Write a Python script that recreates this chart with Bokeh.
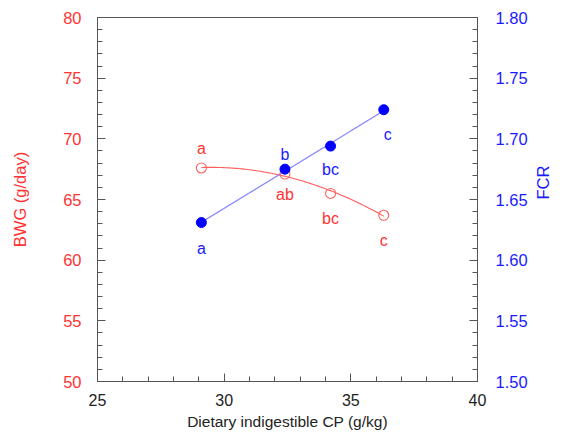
import numpy as np
from bokeh.plotting import figure
from bokeh.models import Range1d, LinearAxis, ColumnDataSource, FixedTicker, PrintfTickFormatter
from bokeh.embed import file_html
from bokeh.resources import INLINE
from bokeh.core.properties import value

# ---- data ----
cp = [29.1, 32.4, 34.2, 36.3]
bwg = [67.6, 67.1, 65.5, 63.7]
fcr = [1.631, 1.675, 1.694, 1.724]
bwg_letters = ["a", "ab", "bc", "c"]
fcr_letters = ["a", "b", "bc", "c"]
x_ticks = [25, 30, 35, 40]
bwg_ticks = [50, 55, 60, 65, 70, 75, 80]
fcr_ticks = [1.50, 1.55, 1.60, 1.65, 1.70, 1.75, 1.80]

# ---- style ----
RED = "#ff3333"
BLUE = "#1a1aff"
FONT = "Liberation Sans"
bwg_label_dy = [-19, 20, 25, 25]   # screen pixel offsets (positive = down)
fcr_label_dy = [26, -15, 23, 25]
fcr_label_dx = [0, 0, 0, 4]

p = figure(width=563, height=432, output_backend="svg", toolbar_location=None,
           x_range=Range1d(25, 40), y_range=Range1d(50, 80),
           min_border_left=97, min_border_right=86, min_border_top=17, min_border_bottom=48)
p.extra_y_ranges = {"fcr": Range1d(1.5, 1.8)}
p.grid.visible = False
p.outline_line_color = "#555555"
p.outline_line_width = 1
p.background_fill_color = "white"
p.border_fill_color = "white"

def style_axis(ax, color, standoff):
    ax.axis_line_color = "#555555"
    ax.major_tick_line_color = "#555555"
    ax.minor_tick_line_color = "#555555"
    ax.major_tick_in = 8
    ax.major_tick_out = 0
    ax.minor_tick_in = 5
    ax.minor_tick_out = 0
    ax.major_label_text_font = FONT
    ax.major_label_text_font_size = "16.5px"
    ax.major_label_text_color = color
    ax.major_label_standoff = standoff
    ax.axis_label_text_font = FONT
    ax.axis_label_text_font_size = "16.5px"
    ax.axis_label_text_font_style = "normal"
    ax.axis_label_text_color = color

xa = p.xaxis[0]
xa.ticker = FixedTicker(ticks=x_ticks, minor_ticks=list(range(25, 41)))
xa.axis_label = "Dietary indigestible CP (g/kg)"
style_axis(xa, "#222222", 12)
xa.major_label_text_font_size = "16px"
xa.axis_label_text_font_size = "15.5px"
xa.axis_label_standoff = 4

ya = p.yaxis[0]
ya.ticker = FixedTicker(ticks=bwg_ticks, minor_ticks=list(range(50, 81)))
ya.axis_label = "BWG (g/day)"
style_axis(ya, RED, 16)
ya.axis_label_standoff = 31

ra = LinearAxis(y_range_name="fcr", axis_label="FCR",
                ticker=FixedTicker(ticks=fcr_ticks,
                                   minor_ticks=[round(1.5 + 0.01 * i, 2) for i in range(31)]))
style_axis(ra, BLUE, 18)
ra.formatter = PrintfTickFormatter(format="%.2f")
ra.axis_label_standoff = 12
if hasattr(ra, "axis_label_orientation"):
    ra.axis_label_orientation = np.pi / 2
p.add_layout(ra, "right")

# ---- fits ----
xs = np.linspace(cp[0], cp[-1], 100)
bwg_fit = np.polyval(np.polyfit(cp, bwg, 2), xs)
fcr_fit = np.polyval(np.polyfit(cp, fcr, 1), xs)

p.line(xs, bwg_fit, line_color="#ff5c5c", line_width=1.1)
p.line(xs, fcr_fit, line_color="#8c8cff", line_width=1.3, y_range_name="fcr")

p.scatter(cp, bwg, size=10, fill_color=None, line_color="#ff6060", line_width=1.1)
p.scatter(cp, fcr, size=10, fill_color="#0000ff", line_color="#0000ff", y_range_name="fcr")

src_b = ColumnDataSource(dict(x=cp, y=bwg, t=bwg_letters, dy=bwg_label_dy))
src_f = ColumnDataSource(dict(x=cp, y=fcr, t=fcr_letters, dy=fcr_label_dy, dx=fcr_label_dx))

p.text(x="x", y="y", text="t", source=src_b, y_offset="dy",
       text_color=RED, text_font=value(FONT), text_font_size="16px",
       text_align="center", text_baseline="middle")
p.text(x="x", y="y", text="t", source=src_f, y_offset="dy", x_offset="dx",
       y_range_name="fcr",
       text_color=BLUE, text_font=value(FONT), text_font_size="16px",
       text_align="center", text_baseline="middle")

open("out.html", "w").write(file_html(p, INLINE))
